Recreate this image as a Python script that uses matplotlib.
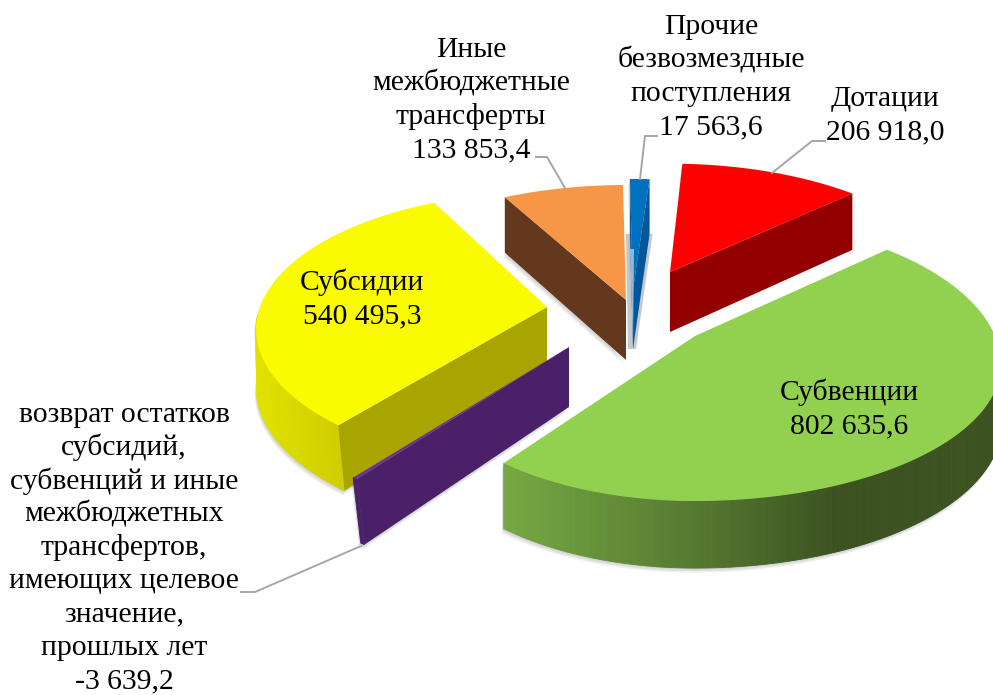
#!/usr/bin/env python3
"""Exploded 3D pie of budget receipts, drawn as projected polygons."""
import numpy as np
import matplotlib
matplotlib.use('Agg')
import matplotlib.pyplot as plt
from matplotlib.patches import Polygon

# clockwise from the top
names = ['Дотации', 'Субвенции', 'возврат', 'Субсидии', 'Иные', 'Прочие']
values = [206918.0, 802635.6, -3639.2, 540495.3, 133853.4, 17563.6]

# label text above the value
label_lines = [
    ['Дотации'],
    ['Субвенции'],
    ['возврат остатков', 'субсидий,', 'субвенций и иные', 'межбюджетных',
     'трансфертов,', 'имеющих целевое', 'значение,', 'прошлых лет'],
    ['Субсидии'],
    ['Иные', 'межбюджетные', 'трансферты'],
    ['Прочие', 'безвозмездные', 'поступления'],
]

# style and layout
top_colors = ['#FF0000', '#92D050', '#7030A0', '#FBFB00', '#F79646', '#0070C0']
face_colors = ['#920000', '#55782E', '#4A2068', '#A9A500', '#64381C', '#00589A']
apexes = [(670, 272), (695, 336), (569, 347), (547, 307), (626, 300), (633, 289)]
rx_left = [285, 272, 302, 285, 294, 300]
rx_right = [285, 300, 302, 285, 294, 380]
ry_back = [130, 143, 132, 132, 138, 132]
turn = [0, 0, 0, 1.2, 0, 0]         # small per-slice rotation, degrees
rim_dy = [0, 0, 5, -5, 0, 0]
low_dx = [0, 0, 12, 10, 0, 0]
label_pos = [(885, 106), (849, 400), (124, 422), (362, 290), (471, 57), (711, 34)]
leaders = [
    [(772, 173), (812, 141), (825, 141)],
    None,
    [(361, 546), (255, 592), (241, 592)],
    None,
    [(565, 188), (547, 157), (536, 157)],
    [(640, 179), (645, 136), (657, 136)],
]
draw_order = [4, 5, 0, 3, 2, 1]

START = 3.0   # degrees clockwise from the back
RY = 132.0
PERSP = 0.2
DEPTH = 60.0
LINE = 33.3


def fmt(v):
    s = f'{abs(v):,.1f}'.replace(',', ' ').replace('.', ',')
    return ('-' if v < 0 else '') + s


def project(i, t, r=1.0):
    a = np.radians(t + turn[i])
    u, v = r * np.sin(a), r * np.cos(a)
    s = 1.0 / (1.0 + PERSP * v)
    rx = rx_left[i] if u < 0 else rx_right[i]
    ry = ry_back[i] if v > 0 else RY
    return np.array([apexes[i][0] + rx * u * s, apexes[i][1] - ry * v * s + r * rim_dy[i]]), s


def lowered(i, t, r=1.0):
    p, s = project(i, t, r)
    # the lower rim drifts inward only towards the front
    front = max(0.0, -np.cos(np.radians(t + turn[i])))
    return p + np.array([r * low_dx[i] * front ** 2, DEPTH * s ** 0.5])


def wall_color(i, x):
    if i == 1:
        xs = [503, 700, 835, 993]
        rgb = [np.interp(x, xs, c) for c in ([118, 84, 60, 60], [168, 120, 82, 82], [66, 48, 32, 32])]
    elif i == 3:
        rgb = [np.interp(x, [255, 345], c) for c in ([226, 206], [226, 204], [0, 0])]
    else:
        return face_colors[i]
    return tuple(c / 255 for c in rgb)


frac = np.abs(values) / np.abs(values).sum()
edges = START + np.concatenate([[0], np.cumsum(frac)]) * 360
mids = (edges[:-1] + edges[1:]) / 2

fig = plt.figure(figsize=(9.93, 6.95), dpi=100)
ax = fig.add_axes([0, 0, 1, 1])
ax.set_xlim(0, 993)
ax.set_ylim(695, 0)
ax.axis('off')

for i in draw_order:
    t0, t1 = edges[i], edges[i + 1]
    ts = np.linspace(t0, t1, max(4, int((t1 - t0) * 2)))
    apex = project(i, t0, 0)[0]
    apex_low = lowered(i, t0, 0)
    rim = np.array([project(i, t)[0] for t in ts])
    rim_low = np.array([lowered(i, t) for t in ts])
    mid_pt = project(i, mids[i], 0.7)[0]
    base_z = draw_order.index(i) * 10

    # soft shadow under the body
    outline = np.vstack([apex_low, rim_low, rim[::-1]])
    for off in (1.5, 3, 4.5):
        ax.add_patch(Polygon(outline + [-off * 0.4, off], closed=True, fc='#808080',
                             ec='none', alpha=0.13, zorder=base_z))

    z = base_z + 1
    # outer wall, in strips for the gradient; the back of the rim is hidden
    for k in range(len(ts) - 1):
        if np.cos(np.radians(ts[k] + turn[i])) > -0.1 and np.cos(np.radians(ts[k + 1] + turn[i])) > -0.1:
            continue
        quad = [rim[k], rim[k + 1], rim_low[k + 1], rim_low[k]]
        col = wall_color(i, (rim[k][0] + rim[k + 1][0]) / 2)
        ax.add_patch(Polygon(quad, closed=True, fc=col, ec=col, lw=0.6, zorder=z))

    # radial faces that turn towards the viewer
    for end, end_low in ((rim[0], rim_low[0]), (rim[-1], rim_low[-1])):
        dx = end[0] - apex[0]
        if abs(dx) < 1e-6:
            continue
        y_line = apex[1] + (mid_pt[0] - apex[0]) * (end[1] - apex[1]) / dx
        if mid_pt[1] < y_line:
            ax.add_patch(Polygon([apex, end, end_low, apex_low], closed=True,
                                 fc=face_colors[i], ec='none', zorder=z + 1))

    # the thin blue slice: grey glow behind it and a light streak on its edge
    if names[i] == 'Прочие':
        glow = [rim_low[0] + [-4, 0], rim_low[-1] + [3, 0], apex_low + [3, 0], apex_low + [-5, 0]]
        ax.add_patch(Polygon(glow, closed=True, fc='#9A9A9A', ec='none', alpha=0.55, zorder=z - 1))
        streak = [apex + [-3, -40], apex + [1, -40], apex_low + [0, -2]]
        ax.add_patch(Polygon(streak, closed=True, fc='#8DBBE0', ec='none', zorder=z + 3))

    # top
    ax.add_patch(Polygon(np.vstack([apex, rim]), closed=True, fc=top_colors[i],
                         ec='none', zorder=z + 2))

    # leader
    if leaders[i]:
        lx, ly = zip(*leaders[i])
        ax.plot(lx, ly, color='#A6A6A6', lw=1.4, zorder=100)

    # label
    lines = label_lines[i] + [fmt(values[i])]
    x0, y0 = label_pos[i]
    for n, line in enumerate(lines):
        ax.text(x0, y0 + n * LINE, line, ha='center', va='baseline', color='black',
                fontsize=21.3, family='Liberation Serif', zorder=101)

fig.savefig('out.png', dpi=100)
